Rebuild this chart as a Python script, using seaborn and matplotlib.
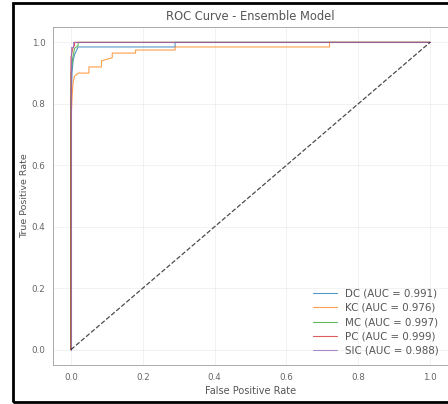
import numpy as np
import pandas as pd
import matplotlib
matplotlib.use("Agg")
import matplotlib.pyplot as plt
import seaborn as sns
from matplotlib.patches import Rectangle

# ROC points
models = ['DC', 'KC', 'MC', 'PC', 'SIC']
aucs = [0.991, 0.976, 0.997, 0.999, 0.988]

dc_fpr = [0.0, 0.0, 0.003, 0.006, 0.01, 0.02, 0.29, 0.29, 1.0]
dc_tpr = [0.0, 0.80, 0.90, 0.94, 0.96, 0.985, 0.985, 1.0, 1.0]

kc_fpr = [0.0, 0.0, 0.003, 0.006, 0.01, 0.02, 0.05, 0.05, 0.085, 0.085, 0.115, 0.115, 0.18, 0.18, 0.29, 0.29, 0.72, 0.72, 1.0]
kc_tpr = [0.0, 0.73, 0.82, 0.87, 0.89, 0.90, 0.90, 0.92, 0.92, 0.94, 0.95, 0.965, 0.965, 0.975, 0.975, 0.985, 0.985, 1.0, 1.0]

mc_fpr = [0.0, 0.0, 0.005, 0.01, 0.02, 0.02, 1.0]
mc_tpr = [0.0, 0.90, 0.95, 0.98, 0.99, 1.0, 1.0]

pc_fpr = [0.0, 0.0, 0.005, 0.01, 0.01, 1.0]
pc_tpr = [0.0, 0.95, 0.98, 0.99, 1.0, 1.0]

sic_fpr = [0.0, 0.0, 0.005, 0.005, 1.0]
sic_tpr = [0.0, 0.985, 0.985, 1.0, 1.0]

fprs = [dc_fpr, kc_fpr, mc_fpr, pc_fpr, sic_fpr]
tprs = [dc_tpr, kc_tpr, mc_tpr, pc_tpr, sic_tpr]

rows = []
for m, a, f, t in zip(models, aucs, fprs, tprs):
    label = f'{m} (AUC = {a:.3f})'
    for x, y in zip(f, t):
        rows.append({'fpr': x, 'tpr': y, 'model': label})
df = pd.DataFrame(rows)

sns.set_style('white')
fig = plt.figure(figsize=(4.48, 4.04), dpi=100)
ax = fig.add_axes([53 / 448, 39 / 404, 395 / 448, 338 / 404])

sns.lineplot(data=df, x='fpr', y='tpr', hue='model', sort=False, estimator=None,
             units='model', palette=sns.color_palette('tab10', 5), linewidth=0.8,
             alpha=0.75, ax=ax)
ax.plot([0, 1], [0, 1], 'k--', linewidth=0.9, alpha=0.7)

ax.set_xlim(-0.05, 1.05)
ax.set_ylim(-0.05, 1.05)
ax.set_xticks(np.arange(0, 1.01, 0.2))
ax.set_yticks(np.arange(0, 1.01, 0.2))
ax.tick_params(labelsize=6.3, colors='#666666', length=2, width=0.5)
ax.grid(True, alpha=0.3, linewidth=0.6)
for s in ax.spines.values():
    s.set_color('#aaaaaa')
    s.set_linewidth(0.7)
ax.set_title('ROC Curve - Ensemble Model', fontsize=8.3, color='#555555', pad=5)
ax.set_xlabel('False Positive Rate', fontsize=7.0, color='#555555', labelpad=3)
ax.set_ylabel('True Positive Rate', fontsize=6.8, color='#555555', labelpad=2)
leg = ax.legend(loc='lower right', fontsize=7.4, frameon=False, handlelength=2.3,
                labelspacing=0.42, borderaxespad=0.5)
for txt in leg.get_texts():
    txt.set_color('#555555')

# black frame of the screenshot
fig.add_artist(Rectangle((13 / 448, 2 / 404), 1.0, 399 / 404, transform=fig.transFigure,
                         fill=False, edgecolor='black', linewidth=2))

fig.savefig('out.png', dpi=100)
